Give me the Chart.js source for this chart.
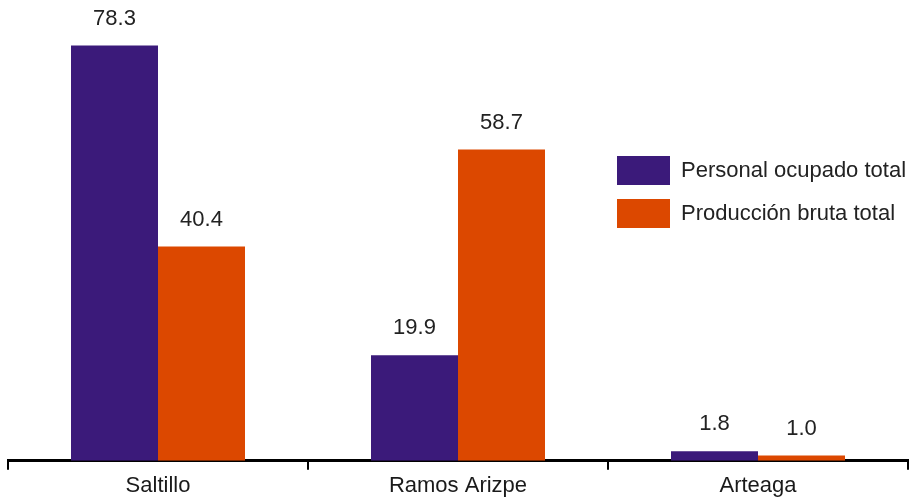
<!DOCTYPE html>
<html>
<head>
<meta charset="utf-8">
<script src="https://cdn.jsdelivr.net/npm/chart.js@4.4.1/dist/chart.umd.min.js"></script>
<style>
  html, body { margin: 0; padding: 0; background: #fff; overflow: hidden; }
  .chart-container { position: relative; width: 919px; height: 498px; }
</style>
</head>
<body>
<div class="chart-container"><canvas id="barChart"></canvas></div>
<script>
const municipios = ['Saltillo', 'Ramos Arizpe', 'Arteaga'];
const personalOcupado = [78.3, 19.9, 1.8];
const produccionBruta = [40.4, 58.7, 1.0];
const seriesLabels = ['Personal ocupado total', 'Producción bruta total'];
const seriesColors = ['#3b1a7a', '#dc4800'];

Chart.defaults.font.family = "'Liberation Sans', Arial, sans-serif";
Chart.defaults.color = '#1e1e1e';

// value labels above each bar
const valueLabels = {
  id: 'valueLabels',
  afterDatasetsDraw(chart) {
    const { ctx } = chart;
    ctx.save();
    ctx.font = "22px 'Liberation Sans', Arial, sans-serif";
    ctx.fillStyle = '#222222';
    ctx.textAlign = 'center';
    ctx.textBaseline = 'middle';
    chart.data.datasets.forEach((ds, i) => {
      chart.getDatasetMeta(i).data.forEach((bar, j) => {
        ctx.fillText(ds.data[j].toFixed(1), bar.x, bar.y - 27);
      });
    });
    ctx.restore();
  }
};

// legend box drawn inside the plot, right side
const boxLegend = {
  id: 'boxLegend',
  afterDraw(chart) {
    const { ctx } = chart;
    const x = 617, y0 = 156, rowGap = 43, w = 53, h = 29;
    ctx.save();
    ctx.font = "22px 'Liberation Sans', Arial, sans-serif";
    ctx.textBaseline = 'middle';
    ctx.textAlign = 'left';
    chart.data.datasets.forEach((ds, i) => {
      const y = y0 + i * rowGap;
      ctx.fillStyle = ds.backgroundColor;
      ctx.fillRect(x, y, w, h);
      ctx.fillStyle = '#222222';
      ctx.fillText(ds.label, x + 64, y + h / 2);
    });
    ctx.restore();
  }
};

new Chart(document.getElementById('barChart').getContext('2d'), {
  type: 'bar',
  data: {
    labels: municipios,
    datasets: [
      { label: seriesLabels[0], data: personalOcupado, backgroundColor: seriesColors[0] },
      { label: seriesLabels[1], data: produccionBruta, backgroundColor: seriesColors[1] }
    ]
  },
  options: {
    responsive: true,
    maintainAspectRatio: false,
    animation: false,
    layout: { padding: { left: 8, right: 11, top: 10, bottom: -4 } },
    datasets: { bar: { categoryPercentage: 0.58, barPercentage: 1.0 } },
    plugins: {
      legend: { display: false },
      tooltip: { enabled: false }
    },
    scales: {
      x: {
        grid: {
          display: true,
          drawOnChartArea: false,
          offset: true,
          color: '#000000',
          lineWidth: 2,
          tickLength: 9
        },
        border: { display: true, color: '#000000', width: 3 },
        ticks: {
          color: '#1a1a1a',
          padding: 4,
          font: { size: 22, lineHeight: 1.1 },
          maxRotation: 0
        }
      },
      y: {
        display: false,
        min: 0,
        max: 85
      }
    }
  },
  plugins: [valueLabels, boxLegend]
});
</script>
</body>
</html>
